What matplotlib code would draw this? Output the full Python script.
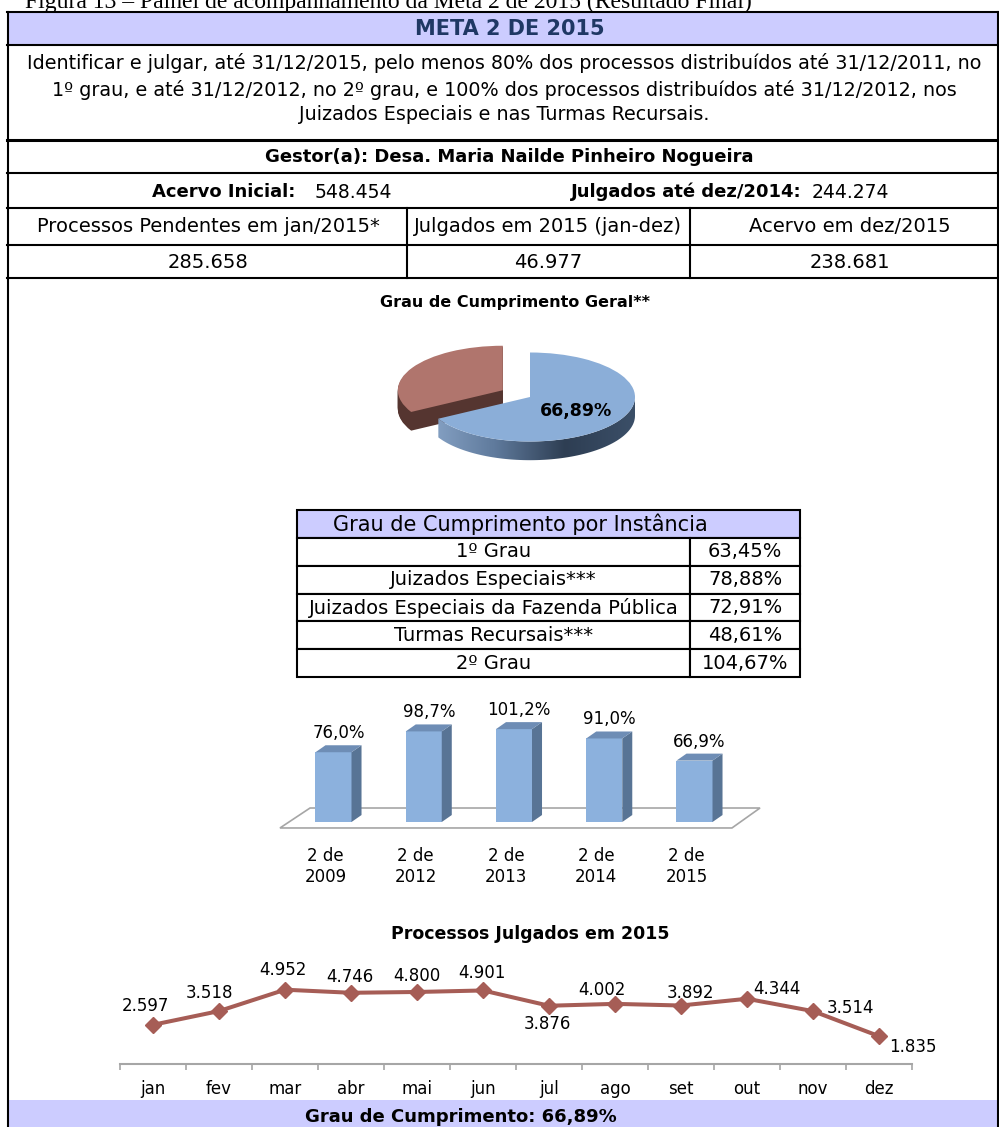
import matplotlib
matplotlib.use('Agg')
import numpy as np
import matplotlib.pyplot as plt
from matplotlib.patches import Rectangle, Polygon
from matplotlib.colors import LinearSegmentedColormap

plt.rcParams['font.family'] = ['DejaVu Sans']

# dados do painel
acervo_inicial = 548454
julgados_ate_2014 = 244274
resumo_titulos = ['Processos Pendentes em jan/2015*', 'Julgados em 2015 (jan-dez)', 'Acervo em dez/2015']
resumo_valores = [285658, 46977, 238681]

grau_geral = [66.89, 33.11]

instancias = ['1º Grau', 'Juizados Especiais***', 'Juizados Especiais da Fazenda Pública',
              'Turmas Recursais***', '2º Grau']
instancias_pct = [63.45, 78.88, 72.91, 48.61, 104.67]

metas = ['2 de\n2009', '2 de\n2012', '2 de\n2013', '2 de\n2014', '2 de\n2015']
metas_pct = [76.0, 98.7, 101.2, 91.0, 66.9]

meses = ['jan', 'fev', 'mar', 'abr', 'mai', 'jun', 'jul', 'ago', 'set', 'out', 'nov', 'dez']
julgados_mes = [2597, 3518, 4952, 4746, 4800, 4901, 3876, 4002, 3892, 4344, 3514, 1835]
# deslocamento dos rotulos (pixels)
rotulo_offset = [(-8, 19), (-10, 18), (-2, 20), (-1, 16), (0, 16), (-1, 17),
                 (-2, -18), (-13, 14), (9, 13), (30, 10), (37, 3), (34, -11)]


def br(n):
    return f'{n:,}'.replace(',', '.')


def pct(v, d):
    return f'{v:.{d}f}%'.replace('.', ',')


W, H = 999, 1127
LAV = '#CCCCFF'
LW = 1.5


def box(x0, y0, x1, y1):
    return [x0 / W, 1 - y1 / H, (x1 - x0) / W, (y1 - y0) / H]


fig = plt.figure(figsize=(W / 100, H / 100), dpi=100)
ax0 = fig.add_axes([0, 0, 1, 1])
ax0.set_xlim(0, W)
ax0.set_ylim(H, 0)
ax0.axis('off')

# legenda da figura (cortada no topo, como no original)
ax0.text(25, 8, 'Figura 13 – Painel de acompanhamento da Meta 2 de 2015 (Resultado Final)',
         family='Liberation Serif', fontsize=17, va='baseline', ha='left')

# faixas lilases
ax0.add_patch(Rectangle((8, 12), 990, 33, fc=LAV, ec='none'))
ax0.add_patch(Rectangle((8, 1100), 990, 27, fc=LAV, ec='none'))

for y in [12, 45, 140, 173, 208, 245, 278]:
    ax0.plot([7, 998], [y, y], color='black', lw=LW if y != 140 else 2.2)
ax0.plot([7.5, 7.5], [12, H], color='black', lw=LW)
ax0.plot([997.5, 997.5], [12, H], color='black', lw=LW)
for x in [407, 690]:
    ax0.plot([x, x], [208, 278], color='black', lw=LW)

ax0.text(510, 29, 'META 2 DE 2015', fontsize=15, fontweight='bold', color='#1F3864',
         ha='center', va='center')
desc = ['Identificar e julgar, até 31/12/2015, pelo menos 80% dos processos distribuídos até 31/12/2011, no',
        '1º grau, e até 31/12/2012, no 2º grau, e 100% dos processos distribuídos até 31/12/2012, nos',
        'Juizados Especiais e nas Turmas Recursais.']
for linha, y in zip(desc, [63, 90, 115]):
    ax0.text(504, y, linha, fontsize=13.8, ha='center', va='center')

ax0.text(509, 157, 'Gestor(a): Desa. Maria Nailde Pinheiro Nogueira', fontsize=13,
         fontweight='bold', ha='center', va='center')
ax0.text(295, 192, 'Acervo Inicial:', fontsize=13, fontweight='bold', ha='right', va='center')
ax0.text(315, 192, br(acervo_inicial), fontsize=13.5, ha='left', va='center')
ax0.text(802, 192, 'Julgados até dez/2014:', fontsize=13, fontweight='bold', ha='right', va='center')
ax0.text(812, 192, br(julgados_ate_2014), fontsize=13.5, ha='left', va='center')

for tit, val, xc in zip(resumo_titulos, resumo_valores, [208, 548, 850]):
    ax0.text(xc, 227, tit, fontsize=14, ha='center', va='center')
    ax0.text(xc, 262, br(val), fontsize=14, ha='center', va='center')

# ---- grau de cumprimento geral (pizza 3D) ----
ax0.text(515, 302, 'Grau de Cumprimento Geral**', fontsize=11.5, fontweight='bold',
         ha='center', va='center')

ax1 = fig.add_axes(box(362, 330.25, 698, 472.65))
prof = 0.42
explode = [0, 0.3]
nlay = 20
for k in range(nlay):
    off = -prof * (1 - k / nlay)
    ax1.pie(grau_geral, explode=explode, colors=['none', '#553530'], startangle=90,
            counterclock=False, center=(0, off), wedgeprops=dict(linewidth=0, zorder=1))

# lateral da fatia azul com degrade
t0 = 90 - 360 * grau_geral[0] / sum(grau_geral)
tt = np.radians(np.linspace(t0, 0, 80))
pts = np.vstack([np.column_stack([np.cos(tt), np.sin(tt)]),
                 np.column_stack([np.cos(tt[::-1]), np.sin(tt[::-1]) - prof])])
lado = Polygon(pts, closed=True, fc='none', ec='none', transform=ax1.transData)
ax1.add_patch(lado)
cmap_lado = LinearSegmentedColormap.from_list('lado', ['#8AA6C9', '#5F7A9C', '#2E3E53', '#3B4F68'])
grad = np.linspace(0, 1, 256).reshape(1, -1)
im = ax1.imshow(grad, extent=[-1.0, 1.0, -1.5, 0.2], cmap=cmap_lado, aspect='auto', zorder=2)
im.set_clip_path(lado)

ax1.pie(grau_geral, explode=explode, colors=['#8BAED8', '#B0756D'], startangle=90,
        counterclock=False, wedgeprops=dict(linewidth=0, zorder=3))
ax1.text(0.44, -0.31, pct(grau_geral[0], 2), fontsize=12.5, fontweight='bold',
         ha='center', va='center', zorder=5)
ax1.set_aspect('auto')
ax1.set_xlim(-1.6, 1.6)
ax1.set_ylim(-1.7, 1.5)
ax1.axis('off')

# ---- tabela por instancia ----
tx0, tx1, txd, ty0 = 297, 800, 690, 510
hh, rh = 28, 27.8
ax0.add_patch(Rectangle((tx0, ty0), tx1 - tx0, hh, fc=LAV, ec='black', lw=LW))
ax0.text(520, ty0 + hh / 2, 'Grau de Cumprimento por Instância', fontsize=15,
         ha='center', va='center')
for i, (lab, v) in enumerate(zip(instancias, instancias_pct)):
    y = ty0 + hh + i * rh
    ax0.add_patch(Rectangle((tx0, y), txd - tx0, rh, fc='white', ec='black', lw=LW))
    ax0.add_patch(Rectangle((txd, y), tx1 - txd, rh, fc='white', ec='black', lw=LW))
    ax0.text((tx0 + txd) / 2, y + rh / 2, lab, fontsize=14, ha='center', va='center')
    ax0.text((txd + tx1) / 2, y + rh / 2, pct(v, 2), fontsize=14, ha='center', va='center')

# ---- barras 3D ----
ax2 = fig.add_axes(box(270, 690, 775, 840))
n = len(metas_pct)
x = np.arange(n)
bw, dxu, dyu = 0.399, 0.111, 7.6
ax2.add_patch(Polygon([(-0.593, -6.5), (-0.26, 15.25), (n - 1 + 0.726, 15.25), (n - 1 + 0.415, -6.5)],
                      closed=True, fc='white', ec='#A6A6A6', lw=1.2, zorder=1))
ax2.bar(x, metas_pct, width=bw, color='#8CB1DD', zorder=3)
for i, v in enumerate(metas_pct):
    xr = i + bw / 2
    xl = i - bw / 2
    ax2.add_patch(Polygon([(xr, 0), (xr + dxu, dyu), (xr + dxu, v + dyu), (xr, v)],
                          closed=True, fc='#587495', ec='none', zorder=3))
    ax2.add_patch(Polygon([(xl, v), (xl + dxu, v + dyu), (xr + dxu, v + dyu), (xr, v)],
                          closed=True, fc='#6E8DB5', ec='none', zorder=3))
    ax2.annotate(pct(v, 1), (i + dxu / 2, v), xytext=(0, 19), textcoords='offset pixels',
                 ha='center', va='center', fontsize=12)
    ax2.annotate(metas[i], (i, 0), xytext=(-8, -44.5), textcoords='offset pixels',
                 ha='center', va='center', fontsize=12, linespacing=1.15)
ax2.set_xlim(-0.7036, 4.892)
ax2.set_ylim(-19.6, 143.8)
ax2.axis('off')

# ---- processos julgados em 2015 ----
ax0.text(530, 934, 'Processos Julgados em 2015', fontsize=12.5, fontweight='bold',
         ha='center', va='center')
ax3 = fig.add_axes(box(120, 950, 912, 1063.5))
ax3.patch.set_alpha(0)
ax3.plot(range(len(meses)), julgados_mes, color='#A65D56', lw=2.9, marker='D', markersize=8,
         clip_on=False, zorder=3)
for i, v in enumerate(julgados_mes):
    dx, dy = rotulo_offset[i]
    ax3.annotate(br(v), (i, v), xytext=(dx, dy), textcoords='offset pixels',
                 ha='center', va='center', fontsize=12)
ax3.set_xlim(-0.5, len(meses) - 0.5)
ax3.set_ylim(0, 7617)
for s in ['top', 'left', 'right']:
    ax3.spines[s].set_visible(False)
ax3.spines['bottom'].set_color('#A6A6A6')
ax3.spines['bottom'].set_linewidth(1.5)
ax3.set_yticks([])
ax3.set_xticks(range(len(meses)), meses)
ax3.set_xticks(np.arange(-0.5, len(meses)), minor=True)
ax3.tick_params(axis='x', which='major', length=0, pad=12, labelsize=12)
ax3.tick_params(axis='x', which='minor', length=4, width=1.2, color='#A6A6A6', direction='out')

ax0.text(461, 1117, 'Grau de Cumprimento: ' + pct(grau_geral[0], 2), fontsize=13,
         fontweight='bold', ha='center', va='center')

fig.savefig('out.png', dpi=100)
